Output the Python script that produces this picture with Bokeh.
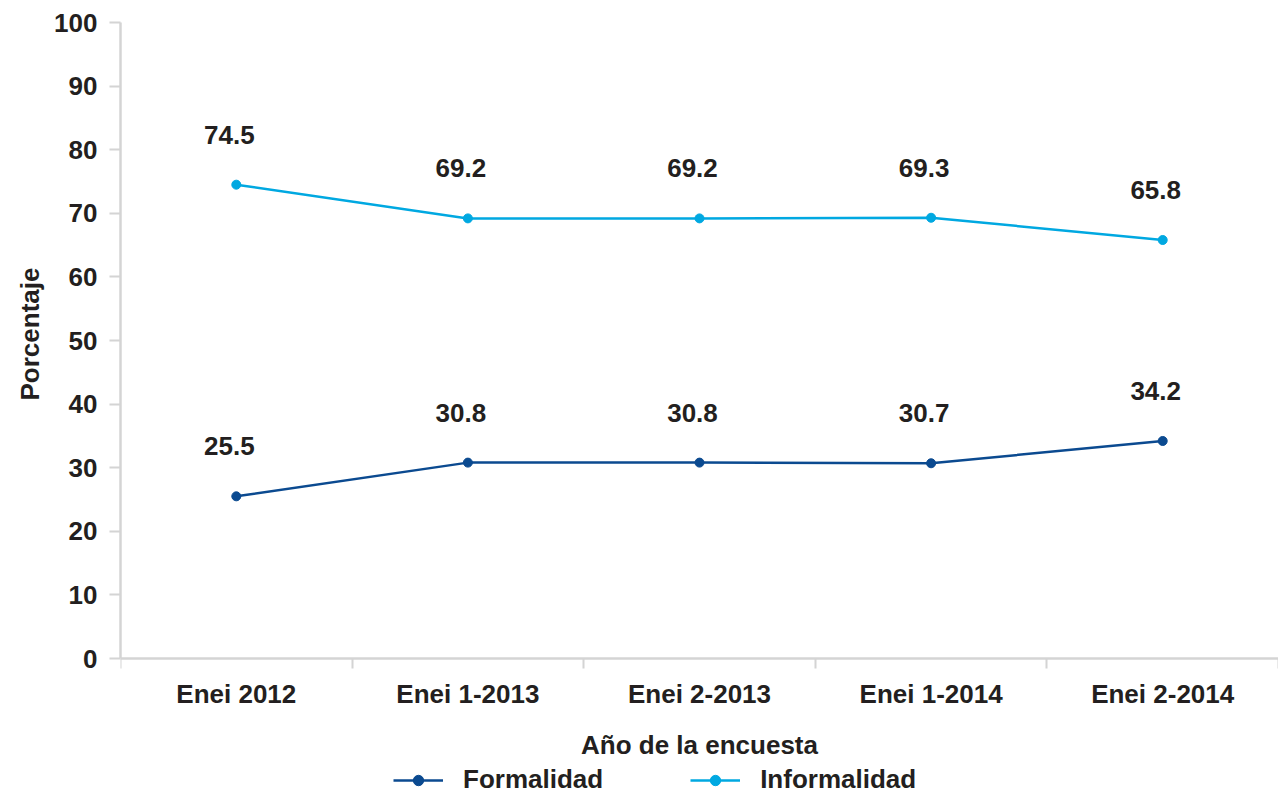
from bokeh.plotting import figure
from bokeh.models import FixedTicker, Range1d, Legend, LegendItem, ColumnDataSource, Title
from bokeh.core.properties import value
from bokeh.embed import file_html
from bokeh.resources import INLINE

categories = ["Enei 2012", "Enei 1-2013", "Enei 2-2013", "Enei 1-2014", "Enei 2-2014"]
formalidad = [25.5, 30.8, 30.8, 30.7, 34.2]
informalidad = [74.5, 69.2, 69.2, 69.3, 65.8]
y_ticks = [0, 10, 20, 30, 40, 50, 60, 70, 80, 90, 100]

FONT = "Liberation Sans"
TXT = "#231f20"
AX = "#d4d4d4"
C_FORM = "#0b4a90"
C_INF = "#00a8e1"

xs = list(range(len(categories)))

# frame extends below the x axis so the legend can sit inside it
p = figure(width=1278, height=795, output_backend="svg", toolbar_location=None,
           x_range=Range1d(-0.5, 4.5), y_range=Range1d(-21.54, 100),
           min_border_left=120, min_border_top=22, min_border_right=0, min_border_bottom=0)
p.outline_line_color = None
p.xgrid.visible = False
p.ygrid.visible = False

src_f = ColumnDataSource(dict(x=xs, y=formalidad, t=[f"{v:.1f}" for v in formalidad]))
src_i = ColumnDataSource(dict(x=xs, y=informalidad, t=[f"{v:.1f}" for v in informalidad]))

lf = p.line("x", "y", source=src_f, line_color=C_FORM, line_width=2.5)
mf = p.scatter("x", "y", source=src_f, size=9, fill_color=C_FORM, line_color=C_FORM)
li = p.line("x", "y", source=src_i, line_color=C_INF, line_width=2.5)
mi = p.scatter("x", "y", source=src_i, size=9, fill_color=C_INF, line_color=C_INF)

for s in (src_f, src_i):
    p.text("x", "y", text="t", source=s, text_font=value(FONT), text_font_style="bold",
           text_font_size="26px", text_color=TXT, text_align="center", text_baseline="middle",
           x_offset=-7, y_offset=-50)

# x axis (drawn at y = 0)
p.xaxis.fixed_location = 0
p.xaxis.ticker = FixedTicker(ticks=xs, minor_ticks=[-0.5, 0.5, 1.5, 2.5, 3.5, 4.5])
p.xaxis.major_label_overrides = {i: c for i, c in enumerate(categories)}
p.xaxis.major_tick_line_color = None
p.xaxis.major_tick_out = 10
p.xaxis.major_tick_in = 0
p.xaxis.minor_tick_line_color = AX
p.xaxis.minor_tick_line_width = 2
p.xaxis.minor_tick_out = 10
p.xaxis.minor_tick_in = 0
p.xaxis.axis_line_color = AX
p.xaxis.axis_line_width = 2.5
p.xaxis.major_label_text_font = FONT
p.xaxis.major_label_text_font_style = "bold"
p.xaxis.major_label_text_font_size = "26px"
p.xaxis.major_label_text_color = TXT
p.xaxis.major_label_standoff = 10
p.xaxis.axis_label = "Año de la encuesta"
p.xaxis.axis_label_text_font = FONT
p.xaxis.axis_label_text_font_style = "bold"
p.xaxis.axis_label_text_font_size = "26px"
p.xaxis.axis_label_text_color = TXT
p.xaxis.axis_label_standoff = 18

# y axis
p.yaxis.bounds = (0, 100)
p.yaxis.ticker = FixedTicker(ticks=y_ticks)
p.yaxis.axis_line_color = AX
p.yaxis.axis_line_width = 2.5
p.yaxis.major_tick_line_color = AX
p.yaxis.major_tick_line_width = 2
p.yaxis.major_tick_out = 11
p.yaxis.major_tick_in = 0
p.yaxis.minor_tick_line_color = None
p.yaxis.major_label_text_font = FONT
p.yaxis.major_label_text_font_style = "bold"
p.yaxis.major_label_text_font_size = "26px"
p.yaxis.major_label_text_color = TXT
p.yaxis.major_label_standoff = 12

ytitle = Title(text="Porcentaje", align="left", offset=395, standoff=14,
               text_font=FONT, text_font_style="bold", text_font_size="26px",
               text_color=TXT)
p.add_layout(ytitle, "left")

legend = Legend(items=[LegendItem(label="Formalidad", renderers=[lf, mf]),
                       LegendItem(label="Informalidad", renderers=[li, mi])],
                orientation="horizontal", location=(273, 0),
                glyph_width=50, glyph_height=26, label_standoff=20, spacing=87,
                padding=0, margin=0, border_line_color=None, background_fill_alpha=0,
                label_text_font=FONT, label_text_font_style="bold",
                label_text_font_size="26px", label_text_color=TXT)
p.add_layout(legend)

open("out.html", "w").write(file_html(p, INLINE))
